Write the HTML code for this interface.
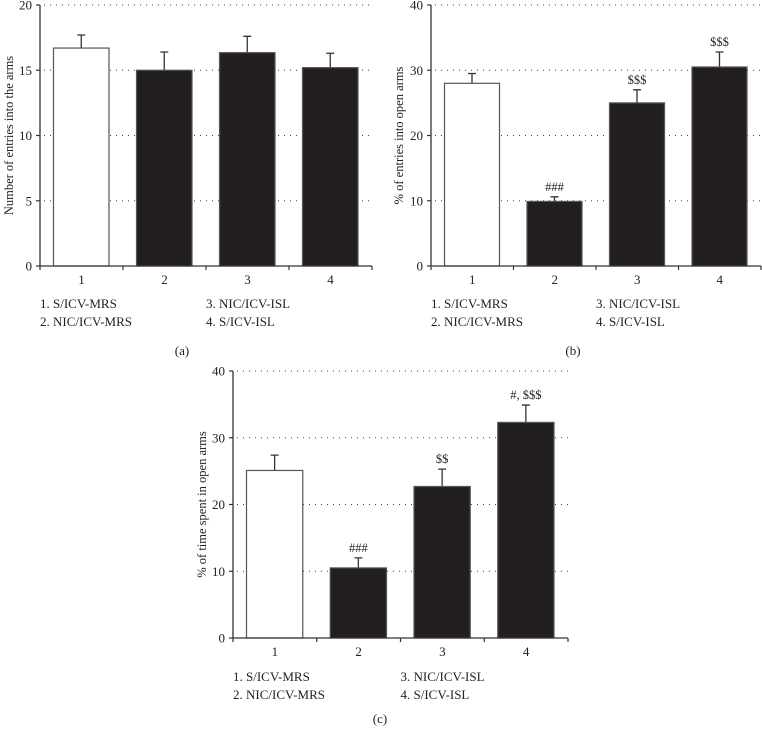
<!DOCTYPE html>
<html><head><meta charset="utf-8">
<style>
html,body{margin:0;padding:0;background:#fff;}
svg{display:block;font-family:"Liberation Serif",serif;}
</style></head>
<body>
<svg id="fig" width="762" height="738" viewBox="0 0 762 738" xmlns="http://www.w3.org/2000/svg"></svg>
<script>
const categories = ["1","2","3","4"];
const legendLabels = ["1. S/ICV-MRS","2. NIC/ICV-MRS","3. NIC/ICV-ISL","4. S/ICV-ISL"];
const valuesA = [16.7, 15.0, 16.35, 15.2];
const errorsA = [1.0, 1.4, 1.25, 1.1];
const ticksA = [0,5,10,15,20];
const annotA = ["","","",""];
const valuesB = [28.0, 9.9, 25.0, 30.5];
const errorsB = [1.5, 0.7, 2.0, 2.3];
const ticksB = [0,10,20,30,40];
const annotB = ["","###","$$$","$$$"];
const valuesC = [25.1, 10.5, 22.7, 32.3];
const errorsC = [2.3, 1.5, 2.6, 2.6];
const ticksC = [0,10,20,30,40];
const annotC = ["","###","$$","#, $$$"];

const NS="http://www.w3.org/2000/svg";
const svg=document.getElementById('fig');
function mk(tag,attrs,parent){const e=document.createElementNS(NS,tag);for(const k in attrs)e.setAttribute(k,attrs[k]);(parent||svg).appendChild(e);return e;}

function panel(cfg){
  const g=mk('g',{});
  
  
  const {x0,x1,y0,y1,vals,errs,ticks,annot,title,caption}=cfg;
  const ymax=ticks[ticks.length-1];
  const ys=v=>y0-(v/ymax)*(y0-y1);
  const dw=(x1-x0)/categories.length;
  const xs=i=>x0+dw*i;
  ticks.forEach(t=>{
    if(t===0)return;
    const l=mk('line',{x1:x0+4,x2:x1,y1:ys(t),y2:ys(t),stroke:'#444','stroke-width':1,'stroke-dasharray':'1 5'},g);
    
    
  });
  vals.forEach((v,i)=>{
    const bx=xs(i)+13.5, bw=dw-27.5;
    const ex=bx+bw/2;
    const eb=mk('path',{d:`M${ex},${ys(v)} V${ys(v+errs[i])} M${ex-4},${ys(v+errs[i])} H${ex+4}`,stroke:'#333','stroke-width':1.3,fill:'none'},g);
    
    
    const r=mk('rect',{x:bx,y:ys(v),width:bw,height:y0-ys(v),fill:i===0?'#fff':'#231f20',stroke:'#555','stroke-width':1.2},g);
    
    
    if(annot[i]){
      const a=mk('text',{x:ex,y:ys(v+errs[i])-6,'text-anchor':'middle','font-size':12.5,fill:'#222'},g);
      a.textContent=annot[i];
      
      
    }
    const c=mk('text',{x:xs(i)+dw/2,y:y0+18,'text-anchor':'middle','font-size':13,fill:'#222'},g);
    c.textContent=categories[i];
    
    
  });
  const ax=mk('path',{d:`M${x0},${y1} V${y0} H${x1}`,stroke:'#333','stroke-width':1.3,fill:'none'},g);
  
  
  for(let i=0;i<=categories.length;i++){
    const tk=mk('line',{x1:xs(i),x2:xs(i),y1:y0,y2:y0+4,stroke:'#333','stroke-width':1.2},g);
    
    
  }
  ticks.forEach(t=>{
    const tk=mk('line',{x1:x0-4,x2:x0,y1:ys(t),y2:ys(t),stroke:'#333','stroke-width':1.2},g);
    
    
    const tl=mk('text',{x:x0-8,y:ys(t)+4.5,'text-anchor':'end','font-size':13,fill:'#222'},g);
    tl.textContent=t;
    
    
  });
  const ty=mk('text',{transform:`translate(${cfg.tx},${(y0+y1)/2}) rotate(-90)`,'text-anchor':'middle','font-size':12.5,fill:'#222'},g);
  ty.textContent=title;
  
  
  legendLabels.forEach((s,i)=>{
    const lx=i<2?x0:xs(2), ly=cfg.ly+(i%2)*18;
    const t=mk('text',{x:lx,y:ly,'font-size':13,fill:'#222'},g);
    t.textContent=s;
    
    
  });
  const cp=mk('text',{x:cfg.cx,y:cfg.cy,'text-anchor':'middle','font-size':13,fill:'#222'},g);
  cp.textContent=caption;
  
  
}

panel({name:'panel-a',x0:40,x1:372,y0:266,y1:5,vals:valuesA,errs:errorsA,ticks:ticksA,annot:annotA,
  title:'Number of entries into the arms',tx:13,ly:308,cx:182,cy:355,caption:'(a)'});
panel({name:'panel-b',x0:431,x1:761,y0:266,y1:5,vals:valuesB,errs:errorsB,ticks:ticksB,annot:annotB,
  title:'% of entries into open arms',tx:403,ly:308,cx:573,cy:355,caption:'(b)'});
panel({name:'panel-c',x0:233,x1:568,y0:638,y1:371,vals:valuesC,errs:errorsC,ticks:ticksC,annot:annotC,
  title:'% of time spent in open arms',tx:206,ly:681,cx:380,cy:723,caption:'(c)'});
</script>
</body></html>
